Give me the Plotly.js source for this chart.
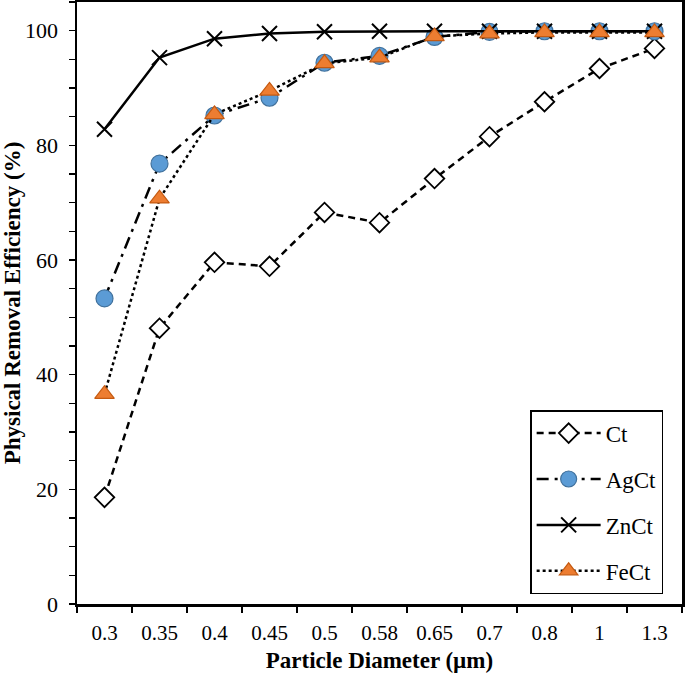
<!DOCTYPE html>
<html>
<head>
<meta charset="utf-8">
<script src="https://cdn.plot.ly/plotly-3.0.1.min.js"></script>
<style>
  body { margin: 0; background: #fff; }
  #graph { width: 685px; height: 676px; }
</style>
</head>
<body>
<div id="graph"></div>
<script>
// particle diameters (categories) and removal efficiency in %
var diameters = ['0.3', '0.35', '0.4', '0.45', '0.5', '0.58', '0.65', '0.7', '0.8', '1', '1.3'];
var ctVals   = [18.6, 48.1, 59.6, 58.9, 68.3, 66.5, 74.2, 81.5, 87.6, 93.4, 96.9];
var agctVals = [53.3, 76.8, 85.2, 88.3, 94.4, 95.6, 98.9, 99.8, 99.9, 99.9, 99.9];
var znctVals = [82.8, 95.3, 98.6, 99.5, 99.8, 99.9, 99.9, 99.9, 99.9, 99.9, 99.9];
var fectVals = [36.6, 70.7, 85.4, 89.5, 94.3, 95.3, 99.0, 99.5, 99.7, 99.7, 99.7];

var serif = '"Liberation Serif", "Times New Roman", serif';

var ct = {
    x: diameters, y: ctVals, name: 'Ct', legendgroup: 'a',
    mode: 'lines+markers',
    line: {color: '#000', width: 2.5, dash: '7px,5px'},
    marker: {symbol: 'diamond', size: 15, color: '#fff', line: {color: '#000', width: 1.8}}
};

var agct = {
    x: diameters, y: agctVals, name: 'AgCt', legendgroup: 'b',
    mode: 'lines+markers',
    line: {color: '#000', width: 2.5, dash: '12px,6px,3px,6px'},
    marker: {symbol: 'circle', size: 17, color: '#5B9BD5', line: {color: '#41719C', width: 1.2}}
};

var znct = {
    x: diameters, y: znctVals, name: 'ZnCt', legendgroup: 'c',
    mode: 'lines+markers',
    line: {color: '#000', width: 2.5},
    marker: {symbol: 'x-thin', size: 15, color: '#000', line: {color: '#000', width: 2}}
};

var fect = {
    x: diameters, y: fectVals, name: 'FeCt', legendgroup: 'd',
    mode: 'lines+markers',
    line: {color: '#000', width: 2.5, dash: 'dot'},
    marker: {symbol: 'triangle-up', size: 17, color: '#ED7D31', line: {color: '#C55A11', width: 1.2}}
};

var data = [ct, agct, znct, fect];

var layout = {
    width: 685,
    height: 676,
    margin: {l: 77, r: 3, t: 2, b: 72},
    paper_bgcolor: '#fff',
    plot_bgcolor: '#fff',
    font: {family: serif, color: '#000', size: 21},
    showlegend: true,
    legend: {
        x: 0.749, y: 0.322, xanchor: 'left', yanchor: 'top',
        bgcolor: '#fff', bordercolor: '#000', borderwidth: 1.5,
        font: {family: serif, size: 23, color: '#000'},
        tracegroupgap: 13,
        itemwidth: 64
    },
    xaxis: {
        type: 'category',
        range: [-0.5, 10.5],
        tickson: 'boundaries',
        ticks: 'outside',
        ticklen: 6,
        tickwidth: 1.5,
        tickcolor: '#000',
        ticklabelstandoff: 8,
        showline: true,
        linecolor: '#000',
        linewidth: 2.5,
        mirror: true,
        showgrid: false,
        zeroline: false,
        tickfont: {family: serif, size: 21},
        title: {text: '<b>Particle Diameter (µm)</b>', font: {family: serif, size: 23}, standoff: 8}
    },
    yaxis: {
        range: [0, 105],
        dtick: 20,
        ticks: 'outside',
        ticklen: 6,
        tickwidth: 1.5,
        tickcolor: '#000',
        ticklabelstandoff: 6,
        minor: {dtick: 5, ticks: 'outside', ticklen: 6, tickwidth: 1.5, tickcolor: '#000', showgrid: false},
        showline: true,
        linecolor: '#000',
        linewidth: 2.5,
        mirror: true,
        showgrid: false,
        zeroline: false,
        tickfont: {family: serif, size: 22},
        title: {text: '<b>Physical Removal Efficiency (%)</b>', font: {family: serif, size: 23}, standoff: 8}
    }
};

Plotly.newPlot(document.getElementById('graph'), data, layout, {staticPlot: true});
</script>
</body>
</html>
